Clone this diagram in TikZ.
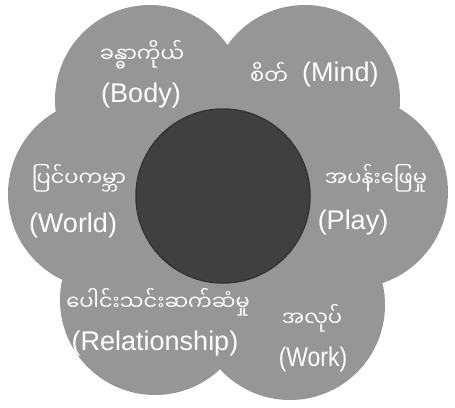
\documentclass[tikz,border=0pt]{standalone}
\usepackage{fontspec}
\setmainfont{Liberation Sans}
\newfontfamily\mya[Script=Myanmar]{Noto Sans Myanmar UI}
\definecolor{petal}{HTML}{969696}
\definecolor{core}{HTML}{404040}
\definecolor{coreedge}{HTML}{353535}
\begin{document}
\begin{tikzpicture}[x=1pt,y=-1pt,
  petalc/.style={fill=petal},
  en/.style={text=white,font=\fontsize{27}{30}\selectfont,inner sep=0pt},
  my/.style={text=white,font=\mya\fontsize{21}{24}\selectfont,inner sep=0pt}]
\useasboundingbox (0,0) rectangle (455,407);
\fill[white] (0,0) rectangle (455,407);
% petals
\fill[petalc] (150,100) circle (95pt);
\fill[petalc] (305,100) circle (95pt);
\fill[petalc] (352,192) circle (96pt);
\fill[petalc] (290,305) circle (95pt);
\fill[petalc] (155,300) circle (95pt);
\fill[petalc] (103,194) circle (95pt);
% centre
\node[circle,fill=core,draw=coreedge,line width=1.5pt,minimum size=174pt,inner sep=0pt] (c) at (223,196) {};
% labels
\node[my] (bodym) at (142,55) {ခန္ဓာကိုယ်};
\node[en] (bodye) at (141,96) {(Body)};
\node[my,anchor=west] (mindm) at (250,73) {စိတ်};
\node[en,anchor=west] (minde) at (302,75) {(Mind)};
\node[my] (worldm) at (79,178) {ပြင်ပကမ္ဘာ};
\node[en] (worlde) at (73,226) {(World)};
\node[my] (playm) at (376,178) {အပန်းဖြေမှု};
\node[en] (playe) at (353,223) {(Play)};
\node[my] (relm) at (158,302) {ပေါင်းသင်းဆက်ဆံမှု};
\node[en] (rele) at (155,344) {(Relationship)};
\node[my] (workm) at (312,318) {အလုပ်};
\node[en] (worke) at (313,360) {\scalebox{0.85}[1]{(Work)}};
\end{tikzpicture}
\end{document}
